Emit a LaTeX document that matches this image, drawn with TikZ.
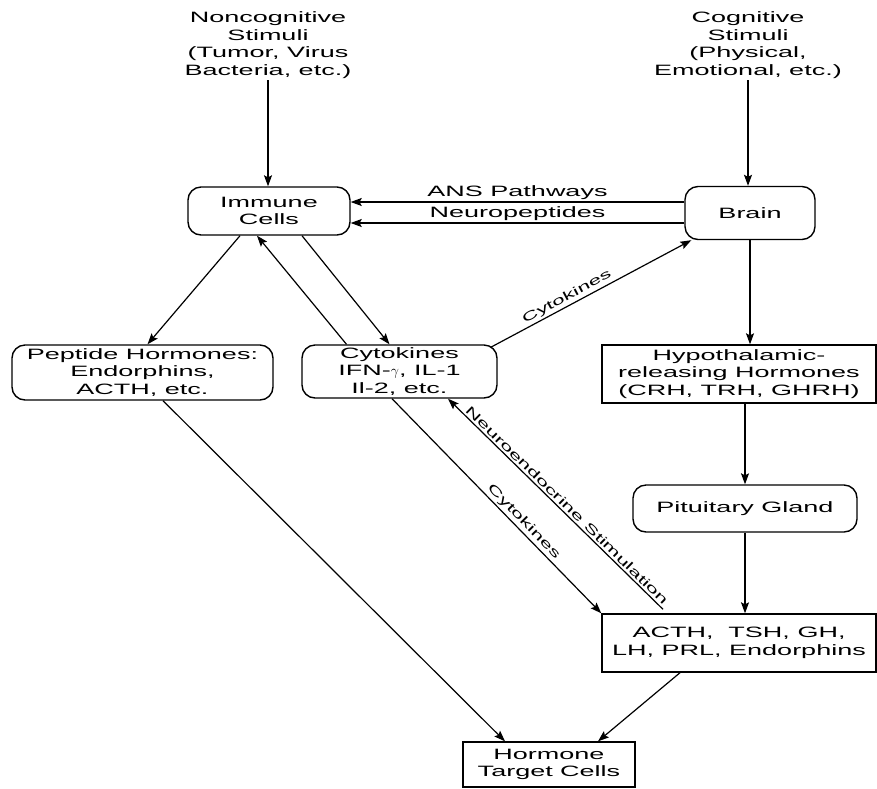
\documentclass[tikz,border=0pt]{standalone}
\usepackage{fontspec}
\setmainfont[FakeStretch=1.8]{Liberation Sans}
\usetikzlibrary{arrows.meta}
\begin{document}
\begin{tikzpicture}[x=1pt,y=-1pt,
  every node/.style={font=\fontsize{15}{17.5}\selectfont, align=center},
  rbox/.style={draw, line width=1.4pt, rounded corners=13pt, inner sep=0pt},
  sbox/.style={draw, line width=1.4pt, inner sep=0pt},
  txt/.style={inner sep=2pt},
  arr/.style={line width=1.2pt, -{Stealth[length=11pt,width=8pt,inset=2pt]}},
  lab/.style={inner sep=1.5pt},
  slab/.style={inner sep=2pt, font=\fontsize{12.5}{14}\selectfont}]
\useasboundingbox (0,0) rectangle (877,788);
% stimuli
\node[txt] (noncog) at (268,45) {Noncognitive\\Stimuli\\(Tumor, Virus\\Bacteria, etc.)};
\node[txt] (cog) at (748,45) {Cognitive\\Stimuli\\(Physical,\\Emotional, etc.)};
% boxes
\node[rbox, minimum width=162, minimum height=48] (imm) at (269,211) {Immune\\Cells};
\node[rbox, minimum width=130, minimum height=53] (brain) at (750,213) {Brain};
\node[rbox, minimum width=261, minimum height=55] (pep) at (142.5,372.5) {Peptide Hormones:\\Endorphins,\\ACTH, etc.};
\node[rbox, minimum width=195, minimum height=53] (cyt) at (399.5,371.5) {Cytokines\\IFN-$\gamma$, IL-1\\Il-2, etc.};
\node[sbox, minimum width=274, minimum height=58] (hyp) at (739,374) {Hypothalamic-\\releasing Hormones\\(CRH, TRH, GHRH)};
\node[rbox, minimum width=224, minimum height=47] (pit) at (745,508.5) {Pituitary Gland};
\node[sbox, minimum width=274, minimum height=58] (acth) at (739,643) {ACTH,\ \ TSH, GH,\\LH, PRL, Endorphins};
\node[sbox, minimum width=172, minimum height=45] (tgt) at (549,764.5) {Hormone\\Target Cells};
% connectors
\draw[arr] (noncog.south) -- (noncog.south |- imm.north);
\draw[arr] (cog.south) -- (cog.south |- brain.north);
\draw[arr] ([yshift=11pt]brain.west) -- ([yshift=11pt]brain.west -| imm.east)
  node[lab, midway, above] (ans) {ANS Pathways};
\draw[arr] ([yshift=-10pt]brain.west) -- ([yshift=-10pt]brain.west -| imm.east)
  node[lab, midway, above] (neu) {Neuropeptides};
\draw[arr] ([xshift=-29pt]imm.south) -- ([xshift=5pt]pep.north);
\draw[arr] ([xshift=-53pt]cyt.north) -- ([xshift=-12pt]imm.south);
\draw[arr] ([xshift=33pt]imm.south) -- ([xshift=-10pt]cyt.north);
\draw[arr] ([xshift=-7pt,yshift=-3pt]cyt.north east) -- ([xshift=7pt]brain.south west)
  node[slab, pos=0.4, above, sloped] (cytl1) {Cytokines};
\draw[arr] ([xshift=20.5pt]pep.south) -- ([xshift=-44pt]tgt.north);
\draw[arr] ([xshift=-7.5pt]cyt.south) -- (acth.north west)
  node[slab, pos=0.6, above, sloped] (cytl2) {Cytokines};
\draw[arr] ([xshift=-76pt,yshift=4pt]acth.north) -- ([xshift=48.5pt]cyt.south)
  node[slab, pos=0.47, above, sloped] (nes) {Neuroendocrine Stimulation};
\draw[arr] (brain.south) -- (brain.south |- hyp.north);
\draw[arr] (pit.north |- hyp.south) -- (pit.north);
\draw[arr] (pit.south) -- (pit.south |- acth.north);
\draw[arr] ([xshift=-59pt]acth.south) -- ([xshift=49pt]tgt.north);
\end{tikzpicture}
\end{document}
